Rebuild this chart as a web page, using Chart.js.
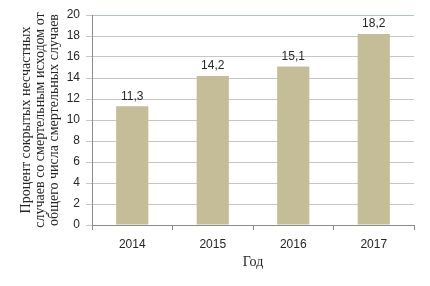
<!DOCTYPE html>
<html>
<head>
<meta charset="utf-8">
<script src="https://cdn.jsdelivr.net/npm/chart.js@4"></script>
<style>
  html, body { margin: 0; padding: 0; background: #fff; }
  #wrap { width: 430px; height: 286px; }
</style>
</head>
<body>
<div id="wrap"><canvas id="chart" width="430" height="286"></canvas></div>
<script>
// chart data
const years = ['2014', '2015', '2016', '2017'];
const percents = [11.3, 14.2, 15.1, 18.2];
const yTicks = [0, 2, 4, 6, 8, 10, 12, 14, 16, 18, 20];
const yTitle = ['Процент сокрытых несчастных', 'случаев со смертельным исходом от', 'общего числа смертельных случаев'];
const xTitle = 'Год';

const barColor = '#c4bd97';
const gridColor = '#c6c6c6';
const axisColor = '#8c8c8c';
const frameColor = '#a7c3e2';

// value labels on top of the bars, comma as decimal mark
const valueLabels = {
    id: 'valueLabels',
    afterDatasetsDraw(chart) {
        const ctx = chart.ctx;
        const meta = chart.getDatasetMeta(0);
        ctx.save();
        ctx.font = '12px "Liberation Sans", Arial, sans-serif';
        ctx.fillStyle = '#262626';
        ctx.textAlign = 'center';
        ctx.textBaseline = 'bottom';
        meta.data.forEach(function (bar, i) {
            ctx.fillText(percents[i].toFixed(1).replace('.', ','), bar.x, bar.y - 4);
        });
        ctx.restore();
    }
};

new Chart(document.getElementById('chart').getContext('2d'), {
    type: 'bar',
    data: {
        labels: years,
        datasets: [{
            data: percents,
            backgroundColor: barColor,
            barPercentage: 0.4,
            categoryPercentage: 1
        }]
    },
    options: {
        responsive: false,
        animation: false,
        layout: { padding: { top: 15, right: 16, bottom: 0, left: 0 } },
        plugins: {
            legend: { display: false },
            tooltip: { enabled: false }
        },
        scales: {
            x: {
                afterFit: function (s) { s.height = 61; },
                grid: {
                    offset: true,
                    color: function (c) { return c.index === years.length ? frameColor : 'rgba(0,0,0,0)'; },
                    tickColor: axisColor,
                    tickLength: 5
                },
                border: { color: axisColor },
                ticks: {
                    padding: 7,
                    color: '#262626',
                    font: { family: '"Liberation Sans", Arial, sans-serif', size: 12 }
                },
                title: {
                    display: true,
                    text: xTitle,
                    color: '#262626',
                    padding: { top: 0, bottom: 17 },
                    font: { family: '"Liberation Serif", "Times New Roman", serif', size: 14, lineHeight: 1 }
                }
            },
            y: {
                min: 0,
                max: 20,
                afterFit: function (s) { s.width = 92; },
                afterBuildTicks: function (s) { s.ticks = yTicks.map(function (v) { return { value: v }; }); },
                grid: {
                    color: function (c) { return c.tick && c.tick.value === 20 ? frameColor : gridColor; },
                    tickColor: gridColor,
                    tickLength: 6
                },
                border: { color: axisColor },
                ticks: {
                    padding: 6,
                    color: '#262626',
                    font: { family: '"Liberation Sans", Arial, sans-serif', size: 12 }
                },
                title: {
                    display: true,
                    text: yTitle,
                    color: '#262626',
                    padding: { top: 19, bottom: 0 },
                    font: { family: '"Liberation Serif", "Times New Roman", serif', size: 14, lineHeight: 1 }
                }
            }
        }
    },
    plugins: [valueLabels]
});
</script>
</body>
</html>
